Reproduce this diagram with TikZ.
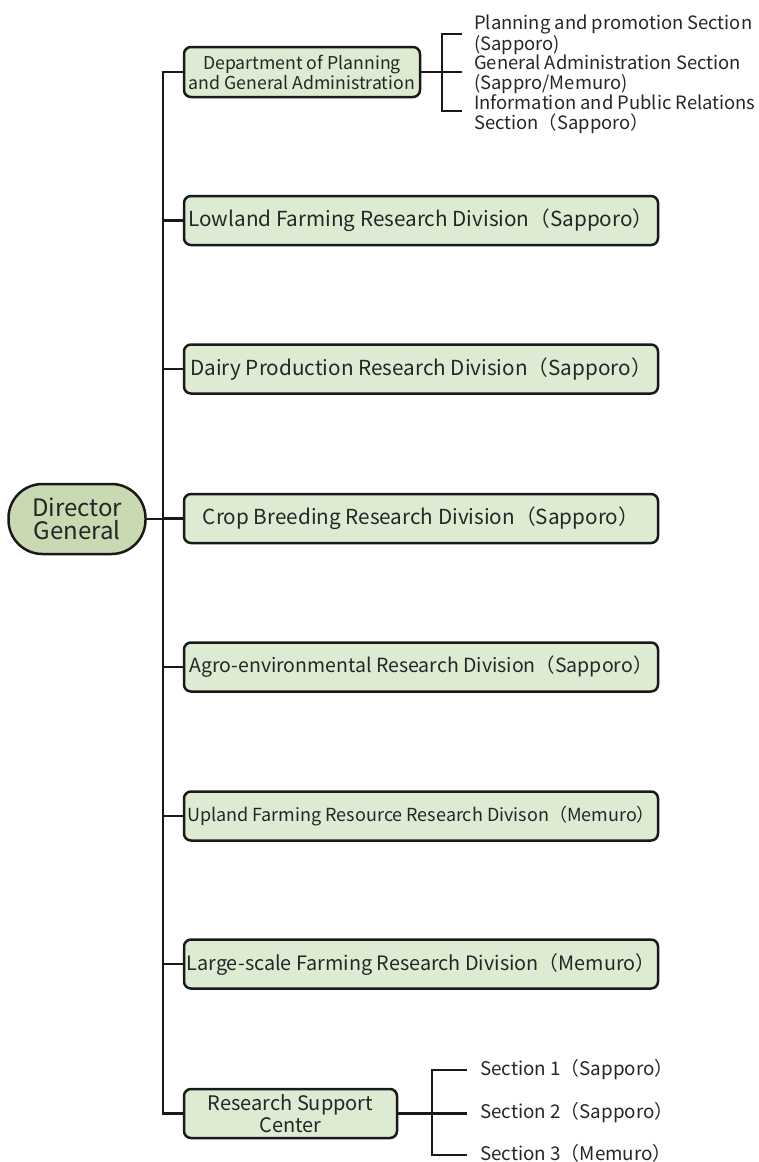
\documentclass[tikz,border=0pt]{standalone}
\usepackage{fontspec}
\setmainfont{Noto Sans CJK JP}
\begin{document}
\begin{tikzpicture}[x=1pt,y=-1pt,
  conn/.style={line width=2.5pt,black!90},
  box/.style={draw=black!90,line width=2.5pt,fill=boxgreen,rounded corners=7pt,inner sep=0pt,align=center,text=black!85,font=\fontsize{20.7}{22}\selectfont},
  sect/.style={anchor=west,inner sep=0pt,align=left,text=black!85,font=\fontsize{18.4}{19.5}\selectfont}]
\definecolor{boxgreen}{HTML}{DDEBD3}
\definecolor{dirgreen}{HTML}{C9D9B1}
\useasboundingbox (0,0) rectangle (759,1162);
% director
\node[draw=black!90,line width=2.5pt,fill=dirgreen,rounded corners=34pt,minimum width=137pt,minimum height=70pt,inner sep=0pt,align=center,text=black!85,font=\fontsize{24}{23}\selectfont] (dg) at (77,519) {Director\\General};
% boxes
\node[box,minimum width=236pt,minimum height=50pt,font=\fontsize{17.7}{20}\selectfont] (dept) at (302,72) {Department of Planning\\and General Administration};
\node[box,minimum width=474pt,minimum height=49pt] (low) at (421,220.5) {Lowland Farming Research Division（Sapporo）};
\node[box,minimum width=474pt,minimum height=49pt] (dairy) at (421,369) {Dairy Production Research Division（Sapporo）};
\node[box,minimum width=474pt,minimum height=49pt] (crop) at (421,518.5) {Crop Breeding Research Division（Sapporo）};
\node[box,minimum width=474pt,minimum height=49pt,font=\fontsize{19.5}{20}\selectfont] (agro) at (421,667) {Agro-environmental Research Division（Sapporo）};
\node[box,minimum width=474pt,minimum height=49pt,font=\fontsize{18}{18}\selectfont] (up) at (421,816) {Upland Farming Resource Research Divison（Memuro）};
\node[box,minimum width=474pt,minimum height=49pt,font=\fontsize{19.8}{20}\selectfont] (large) at (421,964) {Large-scale Farming Research Division（Memuro）};
\node[box,minimum width=213pt,minimum height=49pt,font=\fontsize{20}{22}\selectfont] (rsc) at (290.5,1113.5) {Research Support\\Center};
% trunk
\coordinate (tr) at (163,519);
\coordinate (ttop) at (163,72);
\coordinate (tbot) at (163,1113.5);
\draw[conn] (dg.east) -- (tr);
\draw[conn] (dept.west) -- (ttop) -- (tbot) -- (rsc.west);
\foreach \n in {low,dairy,crop,agro,up,large} \draw[conn] (\n.west) -- (\n.west -| tr);
% dept bracket
\coordinate (db) at (442,72);
\draw[conn] (dept.east) -- (db);
\draw[conn] (462,34) -- (442,34) -- (442,111) -- (462,111);
\draw[conn] (db) -- (462,72);
\node[sect] (s1) at (474,34.5) {Planning and promotion Section\\(Sapporo)};
\node[sect] (s2) at (474,74.5) {General Administration Section\\(Sappro/Memuro)};
\node[sect] (s3) at (474,114) {Information and Public Relations\\Section（Sapporo）};
% rsc bracket
\coordinate (rb) at (432,1113.5);
\draw[conn] (rsc.east) -- (rb);
\draw[conn] (467,1070) -- (432,1070) -- (432,1155) -- (467,1155);
\draw[conn] (rb) -- (467,1113.5);
\node[sect,font=\fontsize{18.8}{19}\selectfont] (r1) at (480,1070) {Section 1（Sapporo）};
\node[sect,font=\fontsize{18.8}{19}\selectfont] (r2) at (480,1112.5) {Section 2（Sapporo）};
\node[sect,font=\fontsize{18.8}{19}\selectfont] (r3) at (480,1153) {Section 3（Memuro）};
\end{tikzpicture}
\end{document}
